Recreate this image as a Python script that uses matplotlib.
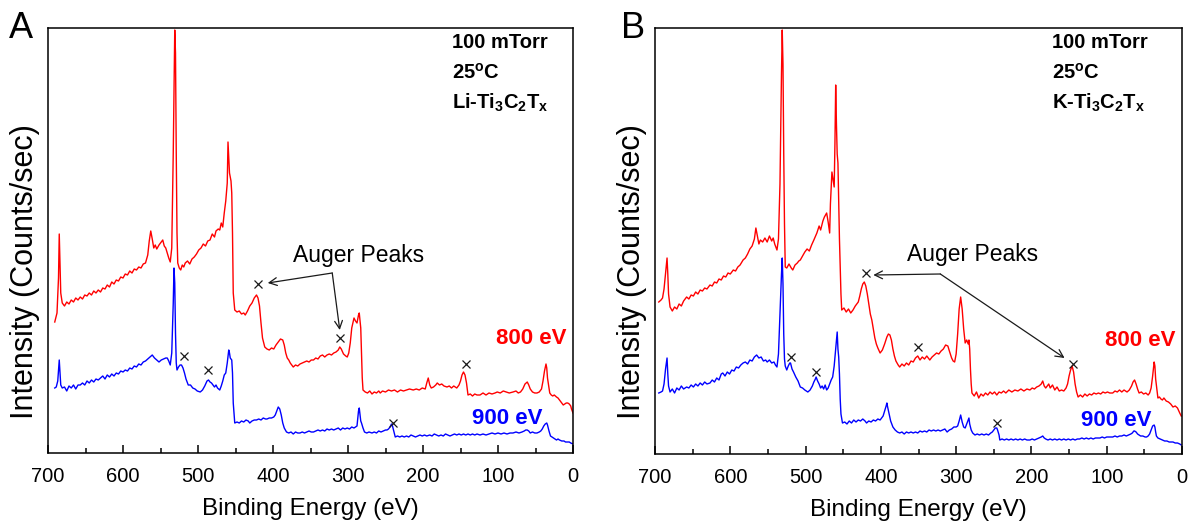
import numpy as np
import matplotlib
matplotlib.use("Agg")
import matplotlib.pyplot as plt

plt.rcParams['font.family'] = ['Liberation Sans', 'DejaVu Sans']
plt.rcParams['mathtext.fontset'] = 'custom'
plt.rcParams['mathtext.rm'] = 'Liberation Sans:bold'
plt.rcParams['mathtext.it'] = 'Liberation Sans:bold'
plt.rcParams['mathtext.bf'] = 'Liberation Sans:bold'

# ---------------- data: (binding energy eV, intensity a.u.) ----------------
red_A = [(691,131),(688,140),(686,175),(685,219),(684,190),(683,160),(681,150),(678,147),(675,151),(672,149),
 (669,153),(666,151),(663,155),(660,153),(657,156),(654,154),(651,158),(648,157),(645,160),(642,158),(639,162),
 (636,160),(633,163),(630,161),(627,165),(624,164),(621,168),(618,166),(615,171),(612,169),(609,173),(606,172),
 (603,176),(600,175),(597,179),(594,178),(591,182),(588,180),(585,184),(582,183),(579,186),(576,185),(573,189),
 (570,190),(567,198),(565,212),(563,222),(561,214),(559,205),(557,208),(555,204),(552,208),(549,211),(547,213),
 (545,207),(543,205),(541,200),(539,195),(537,191),(535,205),(533,300),(531,423),(530,400),(529,300),(528,220),
 (527,190),(525,185),(523,183),(521,188),(519,186),(517,190),(514,192),(511,189),(508,194),(505,196),(502,199),
 (499,203),(496,205),(493,209),(490,207),(487,212),(484,213),(481,219),(478,216),(476,222),(473,224),(471,223),
 (469,230),(467,226),(465,240),(463,252),(461,270),(460,311),(458,280),(456,272),(455,260),(454,220),(453,160),
 (451,143),(448,141),(445,142),(442,139),(439,140),(437,138),(434,142),(431,147),(428,150),(425,155),(422,158),
 (420,155),(418,147),(416,130),(414,115),(411,106),(408,104),(405,103),(402,105),(399,104),(396,108),(393,111),
 (390,114),(387,113),(385,108),(383,100),(381,95),(379,93),(377,90),(375,88),(373,86),(370,88),(367,87),(364,89),
 (361,90),(358,91),(355,92),(352,91),(349,93),(346,93),(343,95),(340,94),(337,97),(334,98),(331,96),(328,98),
 (325,99),(322,98),(319,100),(316,101),(313,103),(311,106),(309,104),(306,99),(303,97),(301,96),(299,100),
 (297,110),(295,125),(292,135),(290,132),(288,130),(286,138),(285,140),(283,125),(282,100),(281,75),(280,63),
 (277,61),(274,60),(271,62),(268,59),(265,61),(262,60),(259,62),(257,60),(254,62),(250,61),(246,63),(242,62),
 (238,63),(234,61),(230,63),(226,62),(222,63),(218,64),(213,63),(209,64),(205,63),(201,65),(197,64),(195,70),
 (193,75),(191,68),(189,65),(186,66),(183,68),(181,70),(178,68),(175,69),(172,67),(168,66),(165,67),(162,65),
 (159,67),(155,65),(152,68),(150,72),(148,78),(146,81),(144,78),(142,70),(140,58),(137,59),(134,57),(131,59),
 (128,58),(124,58),(120,60),(116,58),(112,60),(108,59),(104,60),(101,61),(97,60),(93,62),(89,61),(85,60),(80,61),
 (76,62),(73,60),(70,61),(67,64),(64,69),(61,71),(59,68),(57,64),(54,61),(51,60),(48,60),(45,61),(42,64),(40,72),
 (38,82),(36,89),(35,85),(34,75),(32,65),(31,60),(29,58),(27,57),(25,58),(22,56),(20,55),(17,52),(15,50),(13,48),
 (11,49),(9,50),(7,50),(5,49),(3,47),(2,44),(0,40)]

blue_A = [(691,65),(689,66),(687,72),(685,93),(684,80),(683,68),(681,65),(678,66),(675,62),(672,67),(669,65),
 (666,68),(663,64),(660,68),(657,68),(654,70),(651,68),(648,72),(645,70),(642,73),(639,71),(636,74),(633,73),
 (630,75),(627,77),(624,74),(621,78),(618,76),(615,79),(612,77),(609,80),(606,79),(603,82),(600,81),(597,83),
 (594,82),(591,85),(588,84),(585,87),(582,86),(579,89),(576,88),(573,91),(570,92),(567,94),(564,96),(561,98),
 (558,95),(555,93),(552,91),(549,93),(546,94),(543,95),(541,95),(539,92),(537,88),(535,100),(533,150),(532,185),
 (531,170),(530,120),(529,90),(528,83),(526,86),(524,88),(522,88),(520,85),(518,80),(516,74),(513,68),(510,68),
 (507,65),(504,64),(501,62),(497,61),(494,63),(491,67),(488,72),(486,73),(484,71),(482,70),(480,68),(478,66),
 (476,68),(474,65),(471,63),(469,67),(467,72),(465,78),(463,80),(461,90),(459,103),(458,100),(457,95),(455,93),
 (454,80),(453,50),(451,30),(448,31),(445,30),(442,32),(439,31),(436,33),(433,32),(431,30),(428,32),(425,33),
 (422,33),(419,34),(416,33),(413,35),(410,34),(408,34),(405,35),(402,35),(399,36),(397,38),(395,42),(393,46),
 (391,44),(389,38),(387,30),(385,25),(382,21),(379,20),(376,21),(373,19),(370,21),(367,20),(364,20),(361,21),
 (358,20),(355,21),(352,22),(349,21),(346,21),(343,22),(340,23),(337,22),(334,23),(331,22),(328,24),(325,23),
 (322,24),(319,23),(316,24),(313,25),(310,23),(307,25),(304,24),(301,25),(298,24),(295,26),(292,25),(290,26),
 (288,27),(287,35),(286,42),(285,45),(284,38),(283,32),(282,30),(280,25),(278,21),(275,20),(272,21),(268,20),
 (265,21),(262,20),(259,22),(256,21),(253,22),(250,23),(248,23),(246,24),(244,26),(242,29),(241,28),(239,22),
 (237,16),(234,17),(231,16),(228,17),(225,16),(222,17),(219,16),(216,18),(213,17),(210,16),(207,17),(204,18),
 (201,17),(198,18),(195,17),(191,18),(188,17),(185,19),(182,18),(179,17),(176,18),(173,17),(170,19),(167,18),
 (164,17),(161,18),(158,19),(155,18),(152,19),(149,18),(146,19),(143,18),(140,19),(137,18),(134,19),(131,18),
 (128,19),(124,18),(120,19),(116,18),(112,19),(108,20),(104,19),(100,20),(96,19),(92,20),(88,19),(84,20),(80,20),
 (76,21),(72,20),(68,21),(65,22),(63,23),(61,23),(59,22),(57,20),(54,21),(51,20),(48,20),(45,21),(43,22),(41,24),
 (39,27),(37,29),(35,30),(34,28),(32,22),(30,17),(28,16),(26,15),(24,14),(22,13),(20,14),(18,13),(15,12),(12,12),
 (10,11),(8,11),(5,11),(3,10),(0,9)]

red_B = [(695,152),(692,154),(690,156),(688,165),(686,180),(684,196),(683,180),(682,160),(680,147),(677,143),
 (674,147),(671,145),(668,150),(665,148),(662,153),(658,157),(655,155),(652,159),(649,158),(646,162),(643,160),
 (640,164),(637,163),(634,166),(631,165),(627,169),(624,168),(621,172),(618,171),(615,175),(612,174),(609,178),
 (606,177),(603,181),(600,180),(596,184),(593,183),(590,187),(587,189),(583,194),(580,196),(577,200),(574,205),
 (571,208),(568,215),(566,226),(564,218),(562,210),(560,214),(557,212),(554,216),(551,212),(548,218),(545,213),
 (543,216),(541,210),(539,206),(538,204),(536,215),(534,270),(532,380),(531,424),(530,390),(529,300),(528,230),
 (527,187),(525,186),(522,190),(519,186),(517,184),(514,189),(511,191),(509,193),(507,194),(504,198),(501,202),
 (498,205),(495,203),(492,209),(489,214),(485,221),(482,228),(480,224),(477,233),(475,237),(472,241),(470,232),
 (468,221),(467,250),(465,282),(463,272),(462,267),(461,310),(460,369),(459,330),(458,300),(457,291),(456,250),
 (455,215),(454,187),(453,160),(452,144),(449,146),(446,142),(443,145),(440,141),(437,144),(434,148),(430,152),
 (428,158),(426,165),(424,170),(422,172),(420,168),(418,160),(416,150),(414,140),(412,134),(410,125),(408,116),
 (406,110),(404,106),(401,101),(398,104),(395,110),(392,117),(390,120),(388,119),(386,114),(384,105),(382,98),
 (380,93),(377,89),(375,87),(372,90),(369,88),(366,91),(363,89),(360,93),(357,92),(354,96),(351,98),(348,94),
 (345,97),(342,95),(339,98),(335,94),(332,97),(329,99),(326,101),(323,100),(320,103),(317,105),(314,109),
 (311,108),(309,103),(306,96),(304,93),(302,92),(300,100),(298,120),(296,145),(294,157),(292,145),(290,125),
 (288,111),(286,114),(284,110),(283,114),(282,105),(281,85),(280,70),(279,61),(276,58),(273,62),(270,56),
 (267,60),(264,58),(261,61),(258,59),(255,62),(252,60),(249,62),(246,59),(243,62),(240,61),(237,63),(234,61),
 (230,64),(226,62),(222,64),(218,63),(214,65),(210,63),(206,65),(202,64),(199,66),(196,65),(193,67),(190,68),
 (187,70),(185,73),(183,68),(181,66),(179,68),(177,70),(175,66),(172,69),(169,64),(166,67),(163,63),(160,64),
 (157,63),(154,66),(152,70),(150,78),(148,84),(146,88),(144,82),(142,70),(140,62),(138,57),(135,59),(132,57),
 (129,60),(126,58),(123,60),(120,59),(117,61),(114,60),(111,61),(108,60),(105,62),(102,61),(99,62),(96,61),
 (92,61),(89,63),(86,62),(83,64),(80,62),(77,64),(73,62),(70,64),(67,68),(65,72),(63,74),(61,70),(59,65),(57,61),
 (54,62),(51,60),(48,61),(45,59),(43,61),(41,66),(39,78),(37,92),(36,88),(35,75),(33,62),(32,56),(30,57),(28,55),
 (26,54),(24,56),(21,53),(18,52),(15,50),(12,47),(9,48),(6,46),(3,41),(1,38)]

blue_B = [(695,61),(692,62),(690,63),(688,70),(686,85),(684,96),(683,80),(682,68),(680,62),(677,65),(674,61),
 (671,66),(668,64),(665,68),(662,65),(658,67),(655,66),(652,69),(649,67),(646,70),(643,68),(640,71),(637,69),
 (634,72),(631,70),(627,71),(624,74),(621,72),(618,76),(615,74),(612,80),(610,81),(607,78),(604,82),(601,80),
 (598,84),(595,83),(592,87),(589,86),(586,89),(583,91),(580,92),(577,90),(574,94),(571,93),(568,97),(565,99),
 (562,96),(559,97),(556,93),(553,94),(551,92),(548,94),(545,91),(542,92),(540,89),(538,87),(536,100),(534,140),
 (532,180),(531,196),(530,170),(529,120),(528,95),(527,88),(525,84),(523,88),(521,91),(520,91),(518,85),(516,82),
 (513,77),(510,73),(507,67),(504,66),(501,64),(497,62),(494,64),(491,68),(489,72),(487,75),(486,77),(484,73),
 (482,70),(480,66),(478,68),(476,65),(474,69),(472,64),(470,66),(468,70),(466,74),(464,77),(462,88),(460,105),
 (458,122),(457,105),(456,97),(455,80),(454,55),(453,40),(451,31),(448,32),(445,30),(442,33),(439,31),(436,34),
 (433,32),(430,34),(427,33),(424,35),(421,33),(419,31),(416,33),(413,32),(410,34),(407,33),(404,35),(401,34),
 (399,36),(397,38),(395,43),(393,48),(392,51),(391,47),(389,40),(387,33),(384,27),(381,24),(378,22),(375,21),
 (372,22),(369,20),(366,22),(363,21),(360,22),(357,21),(354,22),(351,21),(348,23),(345,22),(342,23),(339,22),
 (336,24),(333,23),(330,24),(327,23),(324,24),(321,23),(318,24),(315,25),(312,22),(309,24),(306,25),(303,27),
 (300,27),(298,28),(296,33),(294,39),(292,32),(290,27),(288,26),(286,30),(284,34),(283,36),(282,30),(280,24),
 (278,21),(275,19),(272,20),(269,19),(266,20),(263,19),(260,20),(257,19),(254,21),(252,22),(250,24),(248,26),
 (246,26),(245,24),(243,19),(242,14),(239,15),(236,14),(233,15),(230,14),(227,15),(224,14),(221,15),(218,14),
 (215,15),(212,14),(209,15),(206,14),(202,14),(199,15),(196,14),(193,15),(190,16),(187,17),(185,18),(183,16),
 (181,15),(178,14),(175,15),(172,14),(169,15),(166,14),(163,15),(160,14),(157,15),(154,14),(151,15),(148,14),
 (145,15),(142,14),(139,15),(136,15),(133,16),(130,15),(127,16),(124,15),(121,16),(118,15),(115,16),(112,16),
 (109,16),(106,17),(103,16),(100,17),(96,17),(92,17),(89,18),(86,17),(83,18),(80,18),(77,19),(74,18),(71,19),
 (68,20),(66,21),(64,23),(63,23),(61,22),(59,20),(57,19),(55,18),(52,18),(49,17),(47,17),(45,18),(43,20),(41,24),
 (39,28),(37,29),(36,27),(35,22),(34,18),(32,16),(29,15),(26,14),(23,13),(20,13),(17,12),(14,12),(12,12),(9,11),
 (6,11),(3,10),(1,9)]

# Auger peak markers (energy, intensity)
auger_A = [(420,169),(311,115),(143,89),(519,97),(487,83),(240,30)]
auger_B = [(420,181),(351,107),(145,90),(519,97),(486,82),(246,31)]

# arrow geometry (energy, intensity): origin, heads
arrows_A = {'origin': (321, 180), 'heads': [(407, 170), (311, 123)]}
arrows_B = {'origin': (321, 180), 'heads': [(410, 179), (156, 96)]}

samples = ['Li-Ti$_3$C$_2$T$_x$', 'K-Ti$_3$C$_2$T$_x$']
panel_letters = ['A', 'B']
xticks = [700, 600, 500, 400, 300, 200, 100, 0]

W, H = 1194, 527
fig = plt.figure(figsize=(W / 100, H / 100), dpi=100)

axes_px = [(48, 28, 573, 453), (655, 28, 1182, 454)]
datasets = [(red_A, blue_A, auger_A, arrows_A, (373, 198), (8, 115), (40, 35)),
            (red_B, blue_B, auger_B, arrows_B, (365, 199), (9, 114), (40, 34))]
ylabel_x = [25, 632]
letter_x = [9, 621]
info_x = [0.77, 0.753]

for i, (l, t, r, b) in enumerate(axes_px):
    ax = fig.add_axes([l / W, (H - b) / H, (r - l) / W, (b - t) / H])
    red, blue, aug, arr, aug_txt, red_lbl, blue_lbl = datasets[i]
    re = np.array(red, float).T
    be = np.array(blue, float).T
    ax.plot(re[0], re[1], color='#ff0000', lw=1.0)
    ax.plot(be[0], be[1], color='#0000ff', lw=1.0)
    ae = np.array(aug, float).T
    ax.plot(ae[0], ae[1], ls='none', marker='x', ms=6, mew=0.9, color='#1a1a1a')
    ax.set_xlim(700, 0)
    ax.set_ylim(0, b - t)
    ax.set_yticks([])
    ax.set_xticks(xticks)
    ax.set_xticks(np.arange(650, 0, -100), minor=True)
    ax.tick_params(axis='x', which='major', direction='in', length=6, width=1.1,
                   labelsize=14.5, pad=10)
    ax.tick_params(axis='x', which='minor', direction='in', length=3.5, width=1.1)
    for s in ax.spines.values():
        s.set_linewidth(1.1)
    ax.set_xlabel('Binding Energy (eV)', fontsize=17.5, labelpad=9)
    # arrows
    for head in arr['heads']:
        ax.annotate('', xy=head, xytext=arr['origin'],
                    arrowprops=dict(arrowstyle='->', lw=0.9, color='#1a1a1a',
                                    shrinkA=0, shrinkB=0, mutation_scale=14))
    ax.text(aug_txt[0], aug_txt[1], 'Auger Peaks', fontsize=16.5, ha='left', va='center')
    ax.text(red_lbl[0], red_lbl[1], '800 eV', color='#ff0000', fontsize=16,
            fontweight='bold', ha='right', va='center')
    ax.text(blue_lbl[0], blue_lbl[1], '900 eV', color='#0000ff', fontsize=16,
            fontweight='bold', ha='right', va='center')
    ax.text(info_x[i], 0.965, '100 mTorr', transform=ax.transAxes, fontsize=14.5,
            fontweight='bold', ha='left', va='center')
    ax.text(info_x[i], 0.894, '25$^o$C', transform=ax.transAxes, fontsize=14.5,
            fontweight='bold', ha='left', va='center')
    ax.text(info_x[i], 0.825, samples[i], transform=ax.transAxes, fontsize=14.5,
            fontweight='bold', ha='left', va='center')
    fig.text(ylabel_x[i] / W, (H - 272) / H, 'Intensity (Counts/sec)', rotation=90,
             fontsize=22, ha='center', va='center')
    fig.text(letter_x[i] / W, (H - 38) / H, panel_letters[i], fontsize=26,
             ha='left', va='baseline')

fig.savefig('out.png', dpi=100)
